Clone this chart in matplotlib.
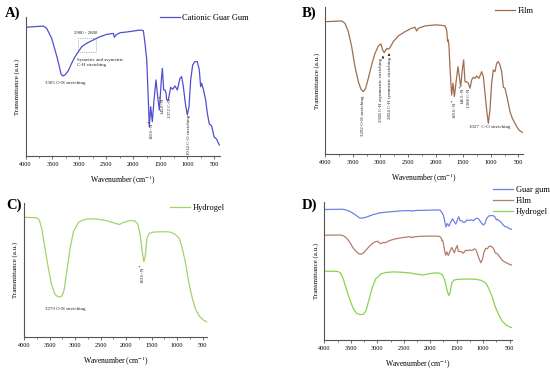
import numpy as np
import matplotlib
matplotlib.use('Agg')
import matplotlib.pyplot as plt
from matplotlib.ticker import MultipleLocator
from matplotlib.patches import Rectangle

plt.rcParams['font.family'] = ['Liberation Serif', 'DejaVu Serif']
plt.rcParams['mathtext.fontset'] = 'stix'

# Cationic guar gum spectrum (wavenumber, transmittance a.u.)
gum_wn = [4000, 3669, 3607, 3515, 3453, 3410, 3372, 3341, 3310, 3267, 3205, 3144, 3082, 3020,
          2958, 2865, 2742, 2618, 2494, 2371, 2352, 2321, 2247, 2123, 2000, 1876, 1814, 1783,
          1765, 1752, 1734, 1715, 1703, 1678, 1647, 1616, 1579, 1548, 1517, 1480, 1461, 1437,
          1412, 1393, 1381, 1350, 1307, 1270, 1227, 1184, 1134, 1103, 1072, 1035, 998, 967,
          936, 899, 857, 813, 776, 751, 732, 701, 658, 627, 590, 547, 503, 454, 404]
gum_t = [92.6, 93.5, 91.8, 84.7, 76.3, 70.3, 64.3, 59.0, 57.6, 58.3, 61.4, 66.7, 71.4, 75.0,
         78.6, 81.1, 83.5, 85.8, 87.5, 88.2, 85.4, 87.1, 88.7, 89.2, 89.9, 90.6, 90.2, 81.1,
         73.9, 70.3, 52.3, 33.1, 21.1, 35.5, 24.7, 40.3, 54.7, 42.7, 33.1, 54.7, 63.1, 47.5,
         47.5, 45.1, 40.3, 40.3, 49.4, 48.0, 50.4, 47.5, 55.9, 57.1, 49.9, 37.9, 29.5, 35.5,
         54.7, 65.5, 67.9, 67.9, 61.9, 49.9, 52.3, 48.0, 40.3, 30.7, 23.0, 21.6, 13.9, 12.0, 7.9]

# Film spectrum
film_wn = [4000, 3704, 3643, 3583, 3522, 3462, 3401, 3353, 3311, 3268, 3220, 3160, 3099, 3039,
           2990, 2960, 2930, 2888, 2857, 2827, 2767, 2676, 2555, 2434, 2374, 2344, 2313, 2192,
           2011, 1890, 1829, 1799, 1781, 1769, 1757, 1733, 1709, 1684, 1660, 1624, 1594, 1569,
           1545, 1515, 1491, 1467, 1437, 1406, 1376, 1346, 1316, 1285, 1255, 1213, 1164, 1134,
           1104, 1074, 1044, 1014, 984, 953, 923, 893, 862, 833, 802, 771, 741, 693, 651, 608,
           560, 511, 469, 427]
film_t = [90.2, 90.7, 89.1, 83.4, 73.2, 59.5, 49.3, 44.1, 42.5, 44.8, 51.6, 60.7, 68.6, 73.6,
          75.0, 70.9, 69.1, 72.0, 71.4, 72.5, 76.6, 80.5, 83.4, 85.7, 86.4, 83.9, 85.7, 87.3,
          88.0, 87.7, 87.3, 84.5, 76.6, 77.7, 73.2, 55.0, 40.2, 48.2, 39.1, 50.5, 59.5, 52.7,
          45.9, 57.3, 64.1, 49.3, 49.3, 48.2, 44.8, 50.5, 52.3, 51.6, 53.2, 51.6, 56.1, 52.7,
          41.4, 30.0, 20.9, 30.0, 48.2, 57.3, 56.1, 61.8, 63.0, 60.7, 56.1, 45.5, 44.8, 36.8,
          28.9, 24.3, 20.9, 17.5, 15.7, 14.8]

# Hydrogel spectrum
gel_wn = [4000, 3751, 3699, 3653, 3588, 3522, 3457, 3391, 3326, 3261, 3215, 3162, 3097, 3031,
          2933, 2835, 2704, 2573, 2377, 2213, 2128, 2050, 1919, 1821, 1768, 1723, 1683, 1651,
          1625, 1592, 1546, 1461, 1265, 1134, 1036, 957, 905, 839, 774, 708, 643, 564, 479, 414]
gel_t = [89.3, 89.0, 87.3, 81.0, 66.1, 51.1, 38.7, 31.7, 29.9, 30.4, 34.9, 48.6, 66.1, 78.6,
         85.5, 87.5, 88.3, 88.0, 86.8, 84.8, 84.0, 85.5, 87.0, 86.5, 84.0, 76.1, 63.6, 56.1,
         59.9, 73.6, 77.3, 78.3, 78.6, 78.3, 76.6, 73.6, 67.3, 56.1, 41.1, 29.9, 21.2, 15.5,
         12.5, 11.2]

# stacking in panel D: (scale, offset)
stack = {'Guar gum': (0.74, 324), 'Film': (1.2, 207), 'Hydrogel': (2.2, 10.5)}

c_gum = '#4f4fd0'
c_film = '#a06e4c'
c_gel = '#a2d46a'
c_gum_d = '#6f82e4'
c_film_d = '#b57d6a'
c_gel_d = '#88d44e'

fig = plt.figure(figsize=(5.5, 3.69), dpi=100)
W, H = 550, 369


def make_axes(l, r, t, b):
    return fig.add_axes([l / W, 1 - b / H, (r - l) / W, (b - t) / H])


def style(ax, xmin):
    ax.set_xlim(4000, xmin)
    for s in ['top', 'right']:
        ax.spines[s].set_visible(False)
    for s in ['left', 'bottom']:
        ax.spines[s].set_color('#555555')
        ax.spines[s].set_linewidth(0.8)
    ax.set_yticks([])
    ax.xaxis.set_major_locator(MultipleLocator(500))
    ax.xaxis.set_minor_locator(MultipleLocator(250))
    ax.tick_params(axis='x', which='major', direction='out', length=2.5, width=0.6,
                   labelsize=4.5, pad=1.5, color='#555555')
    ax.tick_params(axis='x', which='minor', direction='out', length=1.5, width=0.5,
                   color='#555555')
    ax.set_xlabel(r'Wavenumber (cm$^{-1}$)', fontsize=5.5, labelpad=5)
    ax.set_ylabel('Transmittance (a.u.)', fontsize=5, labelpad=4)


def legend(ax, handles, x, y):
    ax.legend(handles=handles, loc='upper left', bbox_to_anchor=(x / W, 1 - y / H),
              bbox_transform=fig.transFigure, frameon=False, fontsize=6,
              handlelength=2.4, handletextpad=0.3, borderpad=0, borderaxespad=0,
              labelspacing=0.35)


ann = dict(fontsize=3.5, color='#222222')

# A) cationic guar gum
axA = make_axes(25.5, 220, 17, 156)
lA, = axA.plot(gum_wn, gum_t, color=c_gum, lw=0.9, label='Cationic Guar Gum')
axA.set_ylim(0, 100)
style(axA, 392)
legend(axA, [lA], 160, 14)
axA.add_patch(Rectangle((3026, 74.8), 2692 - 3026, 10.1, fill=False, ls=':', lw=0.5,
                        ec='#777777'))
axA.text(3100, 88.5, '2900 - 2800', va='center', **ann)
axA.text(3045, 67.3, 'Symetric and asymetric\nC-H stretching', va='center',
         linespacing=1.3, **ann)
axA.text(3638, 52.5, '3305 O-H stretching', va='center', **ann)
axA.text(1653, 25.9, '1656 -N$^{+}$', rotation=90, ha='center', va='top', **ann)
axA.text(1444, 43.9, '1456 -N$^{+}$', rotation=90, ha='center', va='top', **ann)
axA.text(1320, 41.7, '1372 C-N', rotation=90, ha='center', va='top', **ann)
axA.text(973, 29.5, '1014 C-O stretching', rotation=90, ha='center', va='top', **ann)

# B) film
axB = make_axes(325.3, 523, 7.3, 154)
lB, = axB.plot(film_wn, film_t, color=c_film, lw=0.9, label='Film')
axB.set_ylim(0, 100)
style(axB, 415)
legend(axB, [lB], 495, 7)
axB.text(3311, 40.2, '3292 O-H stretching', rotation=90, ha='center', va='top', **ann)
axB.text(2985, 65.5, '2928 C-H asymmetric stretching', rotation=90, ha='center', va='top',
         **ann)
axB.text(2820, 66.5, '2854 C-H symmetric stretching', rotation=90, ha='center', va='top',
         **ann)
for wn, t0, t1 in [(2955, 64.5, 68.8), (2845, 65.5, 70.5)]:
    axB.annotate('', xy=(wn, t1), xytext=(wn, t0),
                 arrowprops=dict(arrowstyle='-|>', lw=0.4, color='#111111',
                                 mutation_scale=3))
axB.text(1648, 38.0, '1656 -N$^{+}$', rotation=90, ha='center', va='top', **ann)
axB.text(1500, 47.0, '1465 -N$^{+}$', rotation=90, ha='center', va='top', **ann)
axB.text(1390, 44.8, '1368 C-N', rotation=90, ha='center', va='top', **ann)
axB.text(1388, 18.2, '1027  C-O stretching', va='center', **ann)

# C) hydrogel
axC = make_axes(24, 207, 203, 337)
lC, = axC.plot(gel_wn, gel_t, color=c_gel, lw=0.9, label='Hydrogel')
axC.set_ylim(0, 100)
style(axC, 414)
legend(axC, [lC], 170, 204)
axC.text(3588, 21.2, '3279 O-H stretching', va='center', **ann)
axC.text(1657, 54.9, '1636 -N$^{+}$', rotation=90, ha='center', va='top', **ann)

# D) overlay
axD = make_axes(324.3, 512, 202, 340)
hs = []
for name, wn, t, c in [('Guar gum', gum_wn, gum_t, c_gum_d),
                       ('Film', film_wn, film_t, c_film_d),
                       ('Hydrogel', gel_wn, gel_t, c_gel_d)]:
    sc, off = stack[name]
    h, = axD.plot(wn, np.array(t) * sc + off, color=c, lw=0.9, label=name)
    hs.append(h)
axD.set_ylim(0, 415)
style(axD, 456)
legend(axD, hs, 493, 186)

# panel letters
for lab, x, y in [('A)', 5, 13), ('B)', 302, 13), ('C)', 6, 205), ('D)', 302, 205)]:
    fig.text(x / W, 1 - y / H, lab, fontsize=10.5, fontweight='bold', va='center')

fig.savefig('out.png', dpi=100)
